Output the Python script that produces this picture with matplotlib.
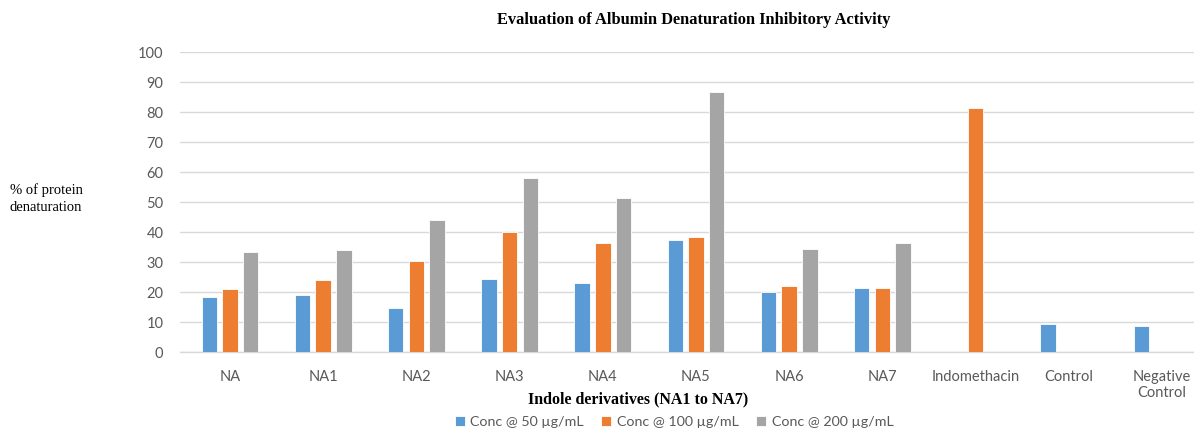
import numpy as np
from matplotlib import pyplot as plt

categories = ["NA", "NA1", "NA2", "NA3", "NA4", "NA5", "NA6", "NA7",
              "Indomethacin", "Control", "Negative\nControl"]
conc_50 = [18.2, 19.0, 14.6, 24.4, 23.0, 37.5, 20.0, 21.2, np.nan, 9.3, 8.7]
conc_100 = [21.0, 24.0, 30.2, 40.1, 36.5, 38.4, 22.0, 21.2, 81.4, np.nan, np.nan]
conc_200 = [33.2, 34.1, 44.0, 58.1, 51.2, 86.7, 34.2, 36.2, np.nan, np.nan, np.nan]
series_labels = ["Conc @ 50 \u00b5g/mL", "Conc @ 100 \u00b5g/mL", "Conc @ 200 \u00b5g/mL"]
colors = ["#5B9BD5", "#ED7D31", "#A5A5A5"]

fig = plt.figure(figsize=(11.94, 4.32), dpi=100)
ax = fig.add_axes([180 / 1194, 80 / 432, 1 - 180 / 1194, 300 / 432])

x = np.arange(len(categories))
step = 0.222
width = 0.166
for i, (vals, lab, col) in enumerate(zip([conc_50, conc_100, conc_200], series_labels, colors)):
    ax.bar(x + (i - 1) * step, vals, width, color=col, label=lab,
           edgecolor="white", linewidth=0.6, zorder=3)

ax.set_ylim(0, 100)
ax.set_xlim(-0.536, 10.343)
ax.set_yticks(range(0, 101, 10))
ax.set_xticks(x)
ax.set_xticklabels(categories, va="top")
ax.grid(axis="y", color="#D9D9D9", linewidth=1, zorder=0)
for side in ["top", "right", "left"]:
    ax.spines[side].set_visible(False)
ax.spines["bottom"].set_color("#D9D9D9")
ax.spines["bottom"].set_linewidth(1)
ax.tick_params(length=0, labelcolor="#595959", labelsize=10.5)
ax.tick_params(axis="y", pad=12)
ax.tick_params(axis="x", pad=13)
for t in ax.get_xticklabels() + ax.get_yticklabels():
    t.set_fontfamily("Lato")

fig.text(694 / 1194, 1 - 20 / 432, "Evaluation of Albumin Denaturation Inhibitory Activity",
         ha="center", va="center", fontfamily="Liberation Serif", fontweight="bold",
         fontsize=11.8)
fig.text(10 / 1194, 1 - 199 / 432, "% of protein\ndenaturation", ha="left", va="center",
         fontfamily="Liberation Serif", fontsize=10.5, linespacing=1.4)
fig.text(638 / 1194, 1 - 399 / 432, "Indole derivatives (NA1 to NA7)", ha="center",
         va="center", fontfamily="Liberation Serif", fontweight="bold", fontsize=11.5)

leg = fig.legend(loc="center", bbox_to_anchor=(674 / 1194, 1 - 422 / 432), ncol=3,
                 frameon=False, handlelength=0.7, handleheight=0.7, handletextpad=0.4,
                 columnspacing=1.2, prop={"family": "Lato", "size": 10.3})
for t in leg.get_texts():
    t.set_color("#595959")

fig.savefig("out.png", dpi=100)
